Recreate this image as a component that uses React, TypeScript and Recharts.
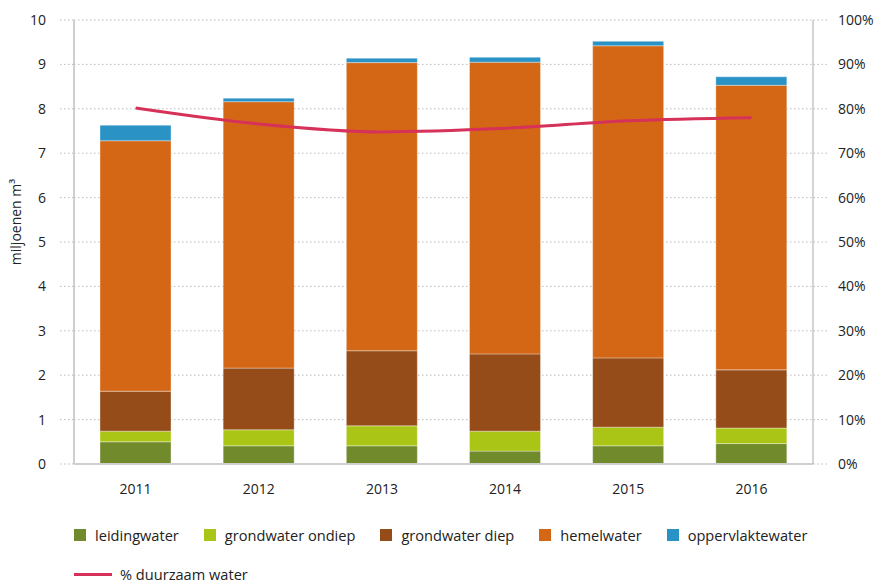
import React from 'react';
import { ComposedChart, Bar, Line, XAxis, YAxis, CartesianGrid } from 'recharts';

const years = ['2011', '2012', '2013', '2014', '2015', '2016'];
const leidingwater = [0.5, 0.41, 0.41, 0.29, 0.41, 0.46];
const grondwaterOndiep = [0.24, 0.36, 0.45, 0.45, 0.42, 0.35];
const grondwaterDiep = [0.9, 1.39, 1.69, 1.74, 1.56, 1.31];
const hemelwater = [5.64, 6.0, 6.49, 6.57, 7.03, 6.41];
const oppervlaktewater = [0.35, 0.08, 0.1, 0.11, 0.1, 0.19];
const duurzaamPct = [80.2, 76.6, 74.8, 75.6, 77.3, 78.0];

const leftTicks = [0, 1, 2, 3, 4, 5, 6, 7, 8, 9, 10];
const rightTicks = [0, 10, 20, 30, 40, 50, 60, 70, 80, 90, 100];

const series = [
  { key: 'leidingwater', name: 'leidingwater', color: '#718a2c' },
  { key: 'grondwaterOndiep', name: 'grondwater ondiep', color: '#aac516' },
  { key: 'grondwaterDiep', name: 'grondwater diep', color: '#964c18' },
  { key: 'hemelwater', name: 'hemelwater', color: '#d46715' },
  { key: 'oppervlaktewater', name: 'oppervlaktewater', color: '#2a92c4' },
];
const lineColor = '#d63158';

const data = years.map((year, i) => ({
  year,
  leidingwater: leidingwater[i],
  grondwaterOndiep: grondwaterOndiep[i],
  grondwaterDiep: grondwaterDiep[i],
  hemelwater: hemelwater[i],
  oppervlaktewater: oppervlaktewater[i],
  pct: duurzaamPct[i],
}));

const font = '"Open Sans", "Noto Sans", sans-serif';
const tickStyle = { fill: '#222', fontSize: 14, fontFamily: font };
const dotted = { stroke: '#bbb', strokeDasharray: '1.5 2.5' };

const LegendBlock = () => (
  <div style={{ position: 'absolute', left: 74, top: 524, fontFamily: font, fontSize: 14.6, color: '#222' }}>
    <div style={{ display: 'flex', alignItems: 'center', height: 22 }}>
      {series.map((s) => (
        <div key={s.key} style={{ display: 'flex', alignItems: 'center', marginRight: 25 }}>
          <span style={{ width: 12, height: 12, background: s.color, marginRight: 9, display: 'inline-block' }} />
          <span>{s.name}</span>
        </div>
      ))}
    </div>
    <div style={{ display: 'flex', alignItems: 'center', height: 22, marginTop: 17 }}>
      <span style={{ width: 38, height: 3, background: lineColor, marginRight: 8, display: 'inline-block' }} />
      <span>% duurzaam water</span>
    </div>
  </div>
);

export default function App() {
  return (
    <div style={{ position: 'absolute', left: 0, top: 0, width: 876, height: 585, background: '#fff' }}>
      <ComposedChart
        width={876}
        height={585}
        data={data}
        margin={{ top: 20, right: 13, bottom: 81, left: 14 }}
        style={{ fontFamily: font }}
      >
        <CartesianGrid yAxisId="left" vertical={false} {...dotted} />
        <XAxis
          dataKey="year"
          height={40}
          tickLine={false}
          tickSize={0}
          tickMargin={20}
          axisLine={{ stroke: '#cfcfcf', strokeWidth: 2 }}
          tick={tickStyle}
        />
        <YAxis
          yAxisId="left"
          width={60}
          domain={[0, 10]}
          ticks={leftTicks}
          interval={0}
          tickSize={14}
          tickMargin={14}
          tickLine={dotted}
          axisLine={{ stroke: '#cfcfcf', strokeWidth: 2 }}
          tick={tickStyle}
          label={{
            content: () => (
              <text
                x={15}
                y={222}
                transform="rotate(-90 15 222)"
                textAnchor="middle"
                dominantBaseline="central"
                fill="#222"
                fontSize={14}
                fontFamily={font}
              >
                miljoenen m³
              </text>
            ),
          }}
        />
        <YAxis
          yAxisId="right"
          orientation="right"
          width={50}
          domain={[0, 100]}
          ticks={rightTicks}
          interval={0}
          tickSize={14}
          tickMargin={11}
          tickLine={dotted}
          axisLine={{ stroke: '#aaa', strokeWidth: 1 }}
          tick={tickStyle}
          tickFormatter={(v) => `${v}%`}
        />
        {series.map((s) => (
          <Bar
            key={s.key}
            yAxisId="left"
            dataKey={s.key}
            name={s.name}
            stackId="water"
            fill={s.color}
            stroke="rgba(255,255,255,0.35)"
            strokeWidth={1}
            barSize={71}
            isAnimationActive={false}
          />
        ))}
        <Line
          yAxisId="right"
          type="monotone"
          dataKey="pct"
          name="% duurzaam water"
          stroke={lineColor}
          strokeWidth={3}
          dot={false}
          isAnimationActive={false}
        />
      </ComposedChart>
      <LegendBlock />
    </div>
  );
}
